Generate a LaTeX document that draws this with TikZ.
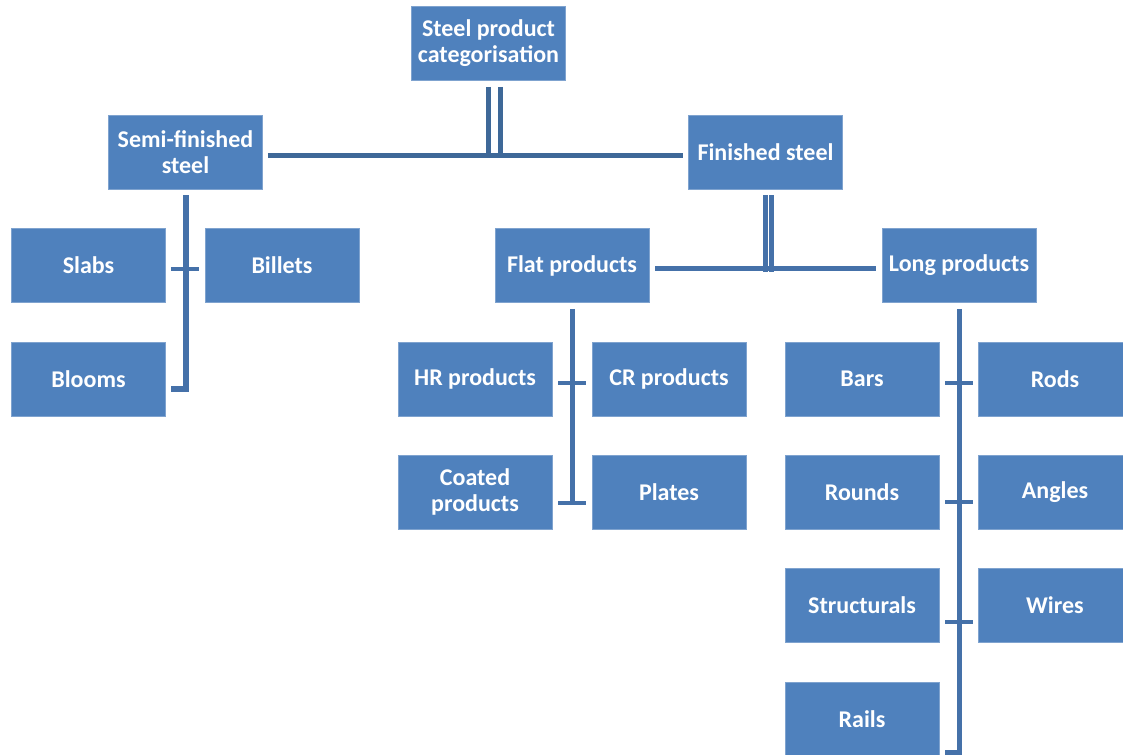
\documentclass[tikz,border=0pt]{standalone}
\usepackage{fontspec}
\setmainfont{Carlito}
\usetikzlibrary{calc}
\definecolor{boxfill}{HTML}{4F81BD}
\definecolor{boxedge}{HTML}{7FA3CF}
\definecolor{conncol}{HTML}{4571A9}
\definecolor{topcol}{HTML}{3E6898}
\tikzset{
  box/.style={rectangle, fill=boxfill, draw=boxedge, line width=0.6pt,
    minimum width=115.5pt, minimum height=55.5pt, inner sep=1pt,
    text=white, font=\fontsize{18}{19.5}\selectfont\bfseries, align=center},
  conn/.style={draw=conncol, line width=3.75pt},
  topconn/.style={draw=topcol, line width=3.75pt},
  tick/.style={draw=conncol, line width=3pt}
}
\begin{document}
\begin{tikzpicture}[x=0.75pt,y=-0.75pt]
\useasboundingbox (0,0) rectangle (1123,755);
% nodes
\node[box] (root) at (488.5,43.5) {Steel product\\categorisation};
\node[box] (semi) at (185.5,152) {Semi-finished\\steel};
\node[box] (fin) at (765.5,152) {Finished steel};
\node[box] (slabs) at (88.5,265.5) {Slabs};
\node[box] (billets) at (282,265.5) {Billets};
\node[box] (blooms) at (88.5,379) {Blooms};
\node[box] (flat) at (572,265.5) {Flat products};
\node[box] (long) at (959,265.5) {Long products};
\node[box] (hr) at (475,379) {HR products};
\node[box] (cr) at (669,379) {CR products};
\node[box] (coated) at (475,492) {Coated\\products};
\node[box] (plates) at (669,492) {Plates};
\node[box] (bars) at (862,379) {Bars};
\node[box] (rods) at (1055,379) {Rods};
\node[box] (rounds) at (862,492) {Rounds};
\node[box] (angles) at (1055,492) {Angles};
\node[box] (struct) at (862,605) {Structurals};
\node[box] (wires) at (1055,605) {Wires};
\node[box] (rails) at (862,719) {Rails};
% root connectors
\draw[topconn] ($(root.south)+(0,6)$) -- ($(root.south)+(0,76)$);
\draw[topconn] ($(root.south)+(12,6)$) -- ($(root.south)+(12,76)$);
\draw[topconn] ($(semi.east)+(5,3.5)$) -- ($(fin.west)+(-5,3.5)$);
% semi-finished
\draw[conn, line width=4.5pt] ($(semi.south)+(0,6)$) |- ($(blooms.east)+(5,10)$);
\draw[tick] ($(slabs.east)+(5,3.5)$) -- ($(billets.west)+(-6,3.5)$);
% finished
\draw[conn] ($(fin.south)+(0,6)$) -- ($(fin.south)+(0,83)$);
\draw[conn] ($(fin.south)+(6,6)$) -- ($(fin.south)+(6,83)$);
\draw[conn] ($(flat.east)+(6,3.5)$) -- ($(long.west)+(-6,3.5)$);
% flat
\draw[conn] ($(flat.south)+(0.5,6)$) -- ($(flat.south)+(0.5,202)$);
\draw[tick] ($(hr.east)+(6,4)$) -- ($(cr.west)+(-6,4)$);
\draw[tick] ($(coated.east)+(6,11)$) -- ($(plates.west)+(-6,11)$);
% long
\draw[conn] ($(long.south)+(0.5,6)$) |- ($(rails.east)+(6,33)$);
\draw[tick] ($(bars.east)+(6,4)$) -- ($(rods.west)+(-5,4)$);
\draw[tick] ($(rounds.east)+(6,10)$) -- ($(angles.west)+(-5,10)$);
\draw[tick] ($(struct.east)+(6,17)$) -- ($(wires.west)+(-5,17)$);
\end{tikzpicture}
\end{document}
